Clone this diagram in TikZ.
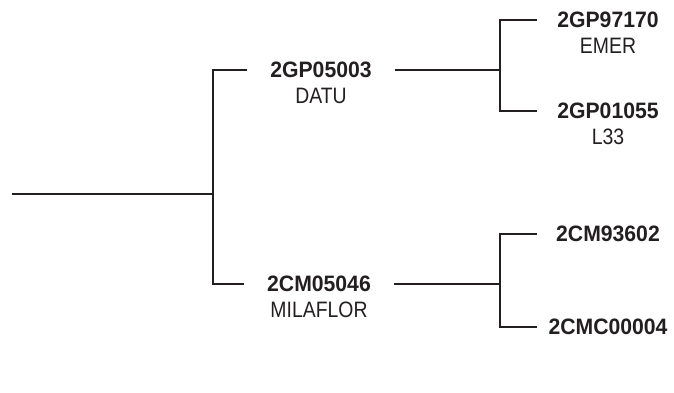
\documentclass[tikz,border=0pt]{standalone}
\usepackage{fontspec}
\setmainfont{Liberation Sans}
\newfontfamily\idfont{Liberation Sans}[FakeStretch=0.95]
\newfontfamily\namefont{Liberation Sans}[FakeStretch=0.87]
\usepackage{tikz}
\usetikzlibrary{positioning}
\definecolor{ink}{HTML}{231F20}

\begin{document}
\begin{tikzpicture}[
  x=1pt, y=1pt,
  idlbl/.style={font=\idfont\fontsize{22.3}{26}\selectfont\bfseries, text=ink, inner ysep=0pt, inner xsep=23pt},
  namelbl/.style={font=\namefont\fontsize{22.3}{26}\selectfont, text=ink, inner sep=0pt},
  branch/.style={draw=ink, line width=1.2pt}
]
  \useasboundingbox (0,0) rectangle (674,393);

  % root and first split
  \coordinate (r0) at (12,199);
  \coordinate (j0) at (213,199);
  \node[idlbl] (datuid) at (321,323) {2GP05003};
  \node[namelbl, below=10pt of datuid] (datu) {DATU};
  \node[idlbl] (milaid) at (319,109) {2CM05046};
  \node[namelbl, below=10pt of milaid] (mila) {MILAFLOR};

  \draw[branch] (r0) -- (j0);
  \draw[branch] (datuid) -| (j0) |- (milaid);

  % second splits
  \coordinate (ja) at (500,323);
  \coordinate (jb) at (500,109);
  \coordinate (emerend) at (537,373);
  \coordinate (lend) at (537,282);
  \coordinate (cmaend) at (537,159);
  \coordinate (cmbend) at (537,66);

  \node[idlbl, inner xsep=0pt] (emerid) at (608,373) {2GP97170};
  \node[namelbl, below=10pt of emerid] (emer) {EMER};
  \node[idlbl, inner xsep=0pt] (lid) at (608,282) {2GP01055};
  \node[namelbl, below=10pt of lid] (l33) {L33};
  \node[idlbl, inner xsep=0pt] (cmaid) at (608,159) {2CM93602};
  \node[idlbl, inner xsep=0pt] (cmbid) at (608,66) {2CMC00004};

  \draw[branch] (datuid) -- (ja);
  \draw[branch] (milaid) -- (jb);
  \draw[branch] (emerend) -| (ja) |- (lend);
  \draw[branch] (cmaend) -| (jb) |- (cmbend);
\end{tikzpicture}
\end{document}
